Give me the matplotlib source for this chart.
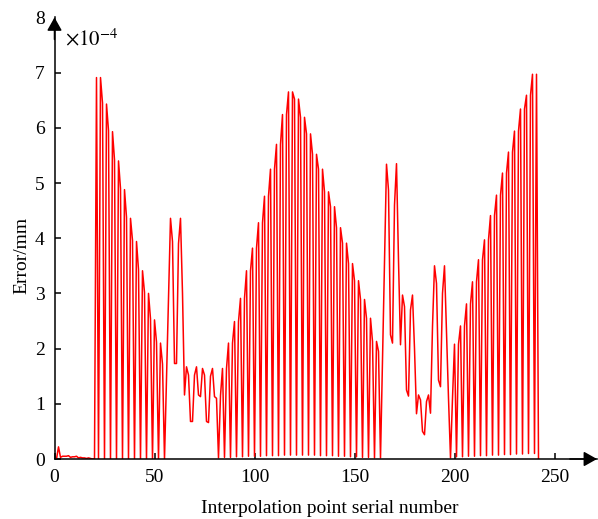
import numpy as np
import matplotlib
matplotlib.use("Agg")
import matplotlib.pyplot as plt

plt.rcParams["font.family"] = "serif"
plt.rcParams["font.serif"] = ["Liberation Serif", "DejaVu Serif"]
plt.rcParams["mathtext.fontset"] = "stix"

# interpolation point index
point_no = np.arange(1, 243)

# error values (x 1e-4 mm)
err = [
    0.00, 0.22, 0.03, 0.05, 0.05, 0.05, 0.06, 0.03, 0.04, 0.04,
    0.05, 0.02, 0.03, 0.02, 0.02, 0.01, 0.02, 0.01, 0.00, 0.00,
    6.91, 0.00, 6.91, 6.45, 0.00, 6.43, 5.95, 0.00, 5.93, 5.42,
    0.00, 5.40, 4.90, 0.00, 4.88, 4.38, 0.00, 4.36, 3.96, 0.00,
    3.94, 3.43, 0.00, 3.41, 3.02, 0.00, 3.00, 2.54, 0.00, 2.52,
    2.12, 0.00, 2.10, 1.72, 0.00, 1.45, 2.90, 4.36, 3.94, 1.73,
    1.73, 3.90, 4.36, 3.00, 1.16, 1.67, 1.52, 0.68, 0.68, 1.52,
    1.67, 1.16, 1.13, 1.64, 1.52, 0.68, 0.66, 1.50, 1.64, 1.13,
    1.10, 0.02, 1.15, 1.64, 0.03, 1.64, 2.10, 0.03, 2.10, 2.49,
    0.04, 2.49, 2.91, 0.04, 2.91, 3.41, 0.05, 3.41, 3.82, 0.05,
    3.82, 4.28, 0.05, 4.28, 4.76, 0.06, 4.76, 5.25, 0.06, 5.25,
    5.70, 0.06, 5.70, 6.24, 0.07, 6.24, 6.65, 0.07, 6.65, 6.52,
    0.07, 6.52, 6.19, 0.07, 6.19, 5.89, 0.07, 5.89, 5.52, 0.07,
    5.52, 5.25, 0.06, 5.25, 4.84, 0.06, 4.84, 4.57, 0.06, 4.57,
    4.19, 0.05, 4.19, 3.91, 0.05, 3.91, 3.54, 0.04, 3.54, 3.23,
    0.04, 3.23, 2.89, 0.03, 2.89, 2.55, 0.03, 2.55, 2.13, 0.02,
    2.13, 1.95, 0.02, 1.80, 3.60, 5.34, 4.87, 2.25, 2.10, 4.60,
    5.35, 3.60, 2.07, 2.97, 2.76, 1.25, 1.14, 2.70, 2.97, 2.00,
    0.82, 1.16, 1.07, 0.50, 0.44, 1.04, 1.16, 0.83, 2.40, 3.50,
    3.18, 1.43, 1.31, 3.00, 3.50, 2.30, 1.10, 0.02, 1.10, 2.08,
    0.04, 2.08, 2.41, 0.04, 2.41, 2.81, 0.05, 2.81, 3.21, 0.05,
    3.21, 3.61, 0.06, 3.61, 3.97, 0.06, 3.97, 4.41, 0.07, 4.41,
    4.78, 0.07, 4.78, 5.18, 0.08, 5.18, 5.56, 0.08, 5.56, 5.94,
    0.09, 5.94, 6.34, 0.09, 6.34, 6.59, 0.10, 6.59, 6.97, 0.10,
    6.97, 0.00,
]

x_ticks = [0, 50, 100, 150, 200, 250]
y_ticks = [0, 1, 2, 3, 4, 5, 6, 7, 8]

fig = plt.figure(figsize=(5.98, 5.19), dpi=100)
ax = fig.add_axes([54.5 / 598, 60 / 519, 542.5 / 598, 441.6 / 519])

ax.plot(point_no, err, color="red", linewidth=1.1)

ax.set_xlim(0, 271.25)
ax.set_ylim(0, 8)
ax.set_xticks(x_ticks)
ax.set_yticks(y_ticks)

for s in ["top", "right"]:
    ax.spines[s].set_visible(False)
for s in ["left", "bottom"]:
    ax.spines[s].set_linewidth(1.1)

ax.tick_params(direction="in", length=4, width=1.1, labelsize=14)
ax.tick_params(axis="y", pad=7)
ax.tick_params(axis="x", pad=7)
ax.yaxis.get_major_ticks()[-1].tick1line.set_visible(False)

# arrow heads on the axes
arrow = dict(arrowstyle="-|>,head_length=0.8,head_width=0.45", color="black",
             lw=1.1, mutation_scale=10, shrinkA=0, shrinkB=0)
ax.annotate("", xy=(0, 1), xytext=(0, 0.95), xycoords="axes fraction", arrowprops=arrow)
ax.annotate("", xy=(1, 0), xytext=(0.95, 0), xycoords="axes fraction", arrowprops=arrow)

ax.text(0.02, 0.949, r"$\times10^{-4}$", transform=ax.transAxes,
        ha="left", va="center", fontsize=15)

ax.set_ylabel("Error/mm", fontsize=14)
ax.yaxis.set_label_coords(-0.06, 0.46)
ax.yaxis.label.set_va("center")
ax.set_xlabel("Interpolation point serial number", fontsize=14)
ax.xaxis.set_label_coords(0.508, -0.111)
ax.xaxis.label.set_va("center")

plt.savefig("out.png", dpi=100)
